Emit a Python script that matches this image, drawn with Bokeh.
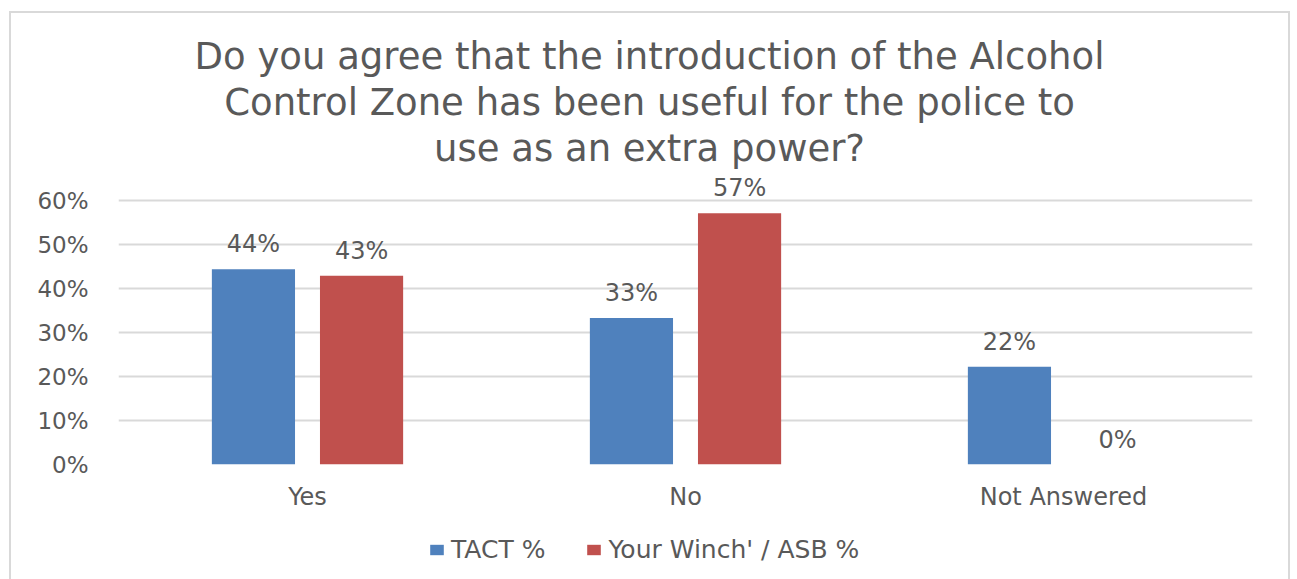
from bokeh.plotting import figure
from bokeh.layouts import column
from bokeh.models import (ColumnDataSource, FactorRange, Range1d, LabelSet, Label,
                          Legend, LegendItem, NumeralTickFormatter, FixedTicker)
from bokeh.core.properties import value
from bokeh.transform import dodge
from bokeh.embed import file_html
from bokeh.resources import INLINE

# ---- data ----
categories = ["Yes", "No", "Not Answered"]
tact_values = [0.444, 0.333, 0.222]
winch_values = [0.429, 0.571, 0.0]
series_names = ["TACT %", "Your Winch' / ASB %"]
series_colors = ["#4F81BD", "#C0504D"]
y_ticks = [0.0, 0.1, 0.2, 0.3, 0.4, 0.5, 0.6]
title_lines = ["Do you agree that the introduction of the Alcohol",
               "Control Zone has been useful for the police to",
               "use as an extra power?"]

TEXT = "#595959"
FONT = "DejaVu Sans"
GRID = "#D9D9D9"

# ---- layout (pixels) ----
W = 1297
H_MAIN, H_LEG = 522, 57
FRAME_LEFT, FRAME_RIGHT = 118, 1252
FRAME_TOP, FRAME_BOTTOM = 2, 464
PX_PER_UNIT = 440.0           # 60% spans 264 px
y_top = (FRAME_BOTTOM - FRAME_TOP) / PX_PER_UNIT

src = ColumnDataSource(dict(
    cats=categories,
    tact=tact_values,
    winch=winch_values,
    tact_lbl=[f"{round(v * 100)}%" for v in tact_values],
    winch_lbl=[f"{round(v * 100)}%" for v in winch_values],
))

p = figure(width=W, height=H_MAIN, output_backend="svg", toolbar_location=None,
           x_range=FactorRange(*categories, range_padding=0),
           y_range=Range1d(0, y_top),
           min_border_left=FRAME_LEFT, min_border_right=W - FRAME_RIGHT,
           min_border_top=FRAME_TOP, min_border_bottom=H_MAIN - FRAME_BOTTOM)
p.outline_line_color = None
p.background_fill_alpha = 0
p.border_fill_alpha = 0

off = 0.143
bw = 0.22
p.vbar(x=dodge("cats", -off, range=p.x_range), top="tact", width=bw, source=src,
       fill_color=series_colors[0], line_color=None)
p.vbar(x=dodge("cats", off, range=p.x_range), top="winch", width=bw, source=src,
       fill_color=series_colors[1], line_color=None)

for fld, lbl, o in (("tact", "tact_lbl", -off), ("winch", "winch_lbl", off)):
    p.add_layout(LabelSet(x=dodge("cats", o, range=p.x_range), y=fld, text=lbl, source=src,
                          y_offset=17, text_align="center", text_baseline="alphabetic",
                          text_font=value(FONT), text_font_size="24px", text_color=TEXT))

# grid
p.xgrid.grid_line_color = None
p.ygrid.ticker = FixedTicker(ticks=y_ticks)
p.ygrid.grid_line_color = GRID
p.ygrid.grid_line_width = 2

# axes
p.yaxis.ticker = FixedTicker(ticks=y_ticks)
p.yaxis.formatter = NumeralTickFormatter(format="0%")
for ax in (p.xaxis, p.yaxis):
    ax.axis_line_color = None
    ax.major_tick_line_color = None
    ax.minor_tick_line_color = None
    ax.major_tick_out = 0
    ax.major_label_text_font = FONT
    ax.major_label_text_color = TEXT
p.yaxis.major_label_text_font_size = "23px"
p.xaxis.major_label_text_font_size = "24px"
p.yaxis.major_label_standoff = 30
p.xaxis.major_label_standoff = 18

# title (screen units relative to the frame's bottom-left corner)
baselines = [408, 362, 316]
for line, yb in zip(title_lines, baselines):
    p.add_layout(Label(x=531, y=yb, x_units="screen", y_units="screen", text=line,
                       text_align="center", text_baseline="alphabetic",
                       text_font=FONT, text_font_size="37px", text_color=TEXT))

# legend strip (shares the main chart's ranges and data; its bars stay hidden)
pl = figure(width=W, height=H_LEG, output_backend="svg", toolbar_location=None,
            x_axis_type=None, y_axis_type=None,
            x_range=p.x_range, y_range=p.y_range,
            min_border_left=0, min_border_right=0, min_border_top=0, min_border_bottom=0)
pl.outline_line_color = None
pl.background_fill_alpha = 0
pl.border_fill_alpha = 0
pl.grid.visible = False
lr1 = pl.vbar(x=dodge("cats", -off, range=p.x_range), top="tact", width=bw, source=src,
              fill_color=series_colors[0], line_color=None, visible=False)
lr2 = pl.vbar(x=dodge("cats", off, range=p.x_range), top="winch", width=bw, source=src,
              fill_color=series_colors[1], line_color=None, visible=False)
legend = Legend(items=[LegendItem(label=series_names[0], renderers=[lr1]),
                       LegendItem(label=series_names[1], renderers=[lr2])],
                orientation="horizontal", location=(310, 15), margin=0, padding=5,
                border_line_color=None, background_fill_alpha=0,
                glyph_width=17, glyph_height=13, spacing=40, label_standoff=6,
                label_text_font=FONT, label_text_font_size="25px", label_text_color=TEXT)
pl.add_layout(legend, "center")

frame_css = ("inset 9px 11px 0 0 #FFFFFF, inset -7px 0 0 0 #FFFFFF, "
             "inset 11px 13px 0 0 #D9D9D9, inset -9px 0 0 0 #D9D9D9")
layout = column(p, pl, spacing=0, styles={"box-shadow": frame_css, "background": "white"})

open("out.html", "w").write(file_html(layout, INLINE))
